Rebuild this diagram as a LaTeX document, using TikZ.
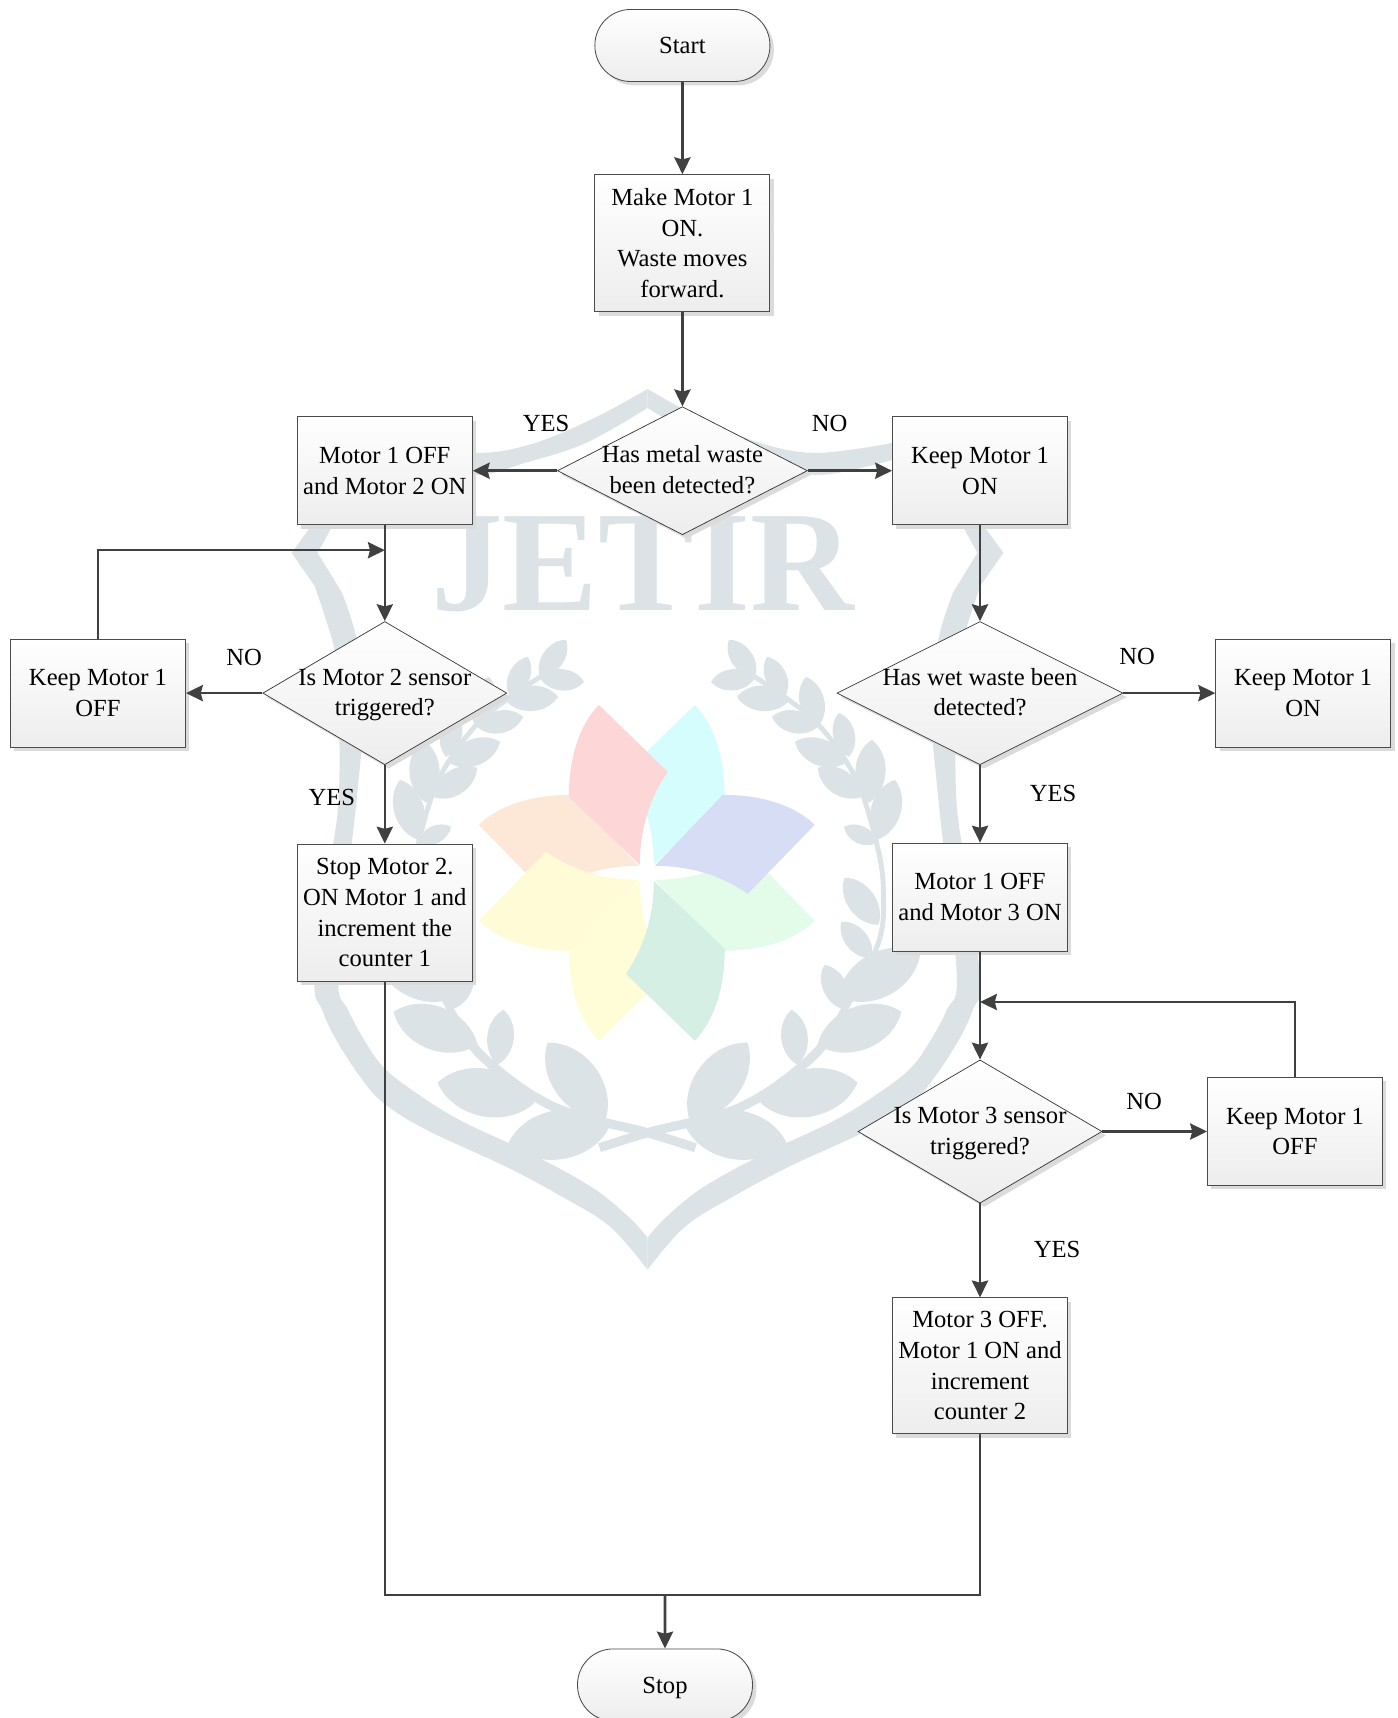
\documentclass[tikz,border=0pt]{standalone}
\usepackage{fontspec}
\setmainfont{Liberation Serif}
\usepackage{tikz}
\usetikzlibrary{arrows,positioning}
\usetikzlibrary{shapes.geometric,calc,shadows}
\usetikzlibrary{arrows.meta}
\definecolor{wmgray}{HTML}{DCE3E7}
\definecolor{linegray}{HTML}{404040}
\newcommand{\dlabel}[1]{\smash{\makebox[0pt]{\raisebox{-5.3pt}{\parbox[c]{9cm}{\centering\strut #1\strut}}}}}
\newcommand{\wmleaf}[4]{\fill (#1,#2) to[bend left=55] (#3,#4) to[bend left=55] (#1,#2);}
\newcommand{\petal}[3]{\begin{scope}[shift={(16.17cm,-21.82cm)},x=#2,y=-0.025cm,rotate=#1]
\fill [#3] (-48,-168) -- (21,-101) .. controls (1,-72) and (-7,-40) .. (-7,-8) -- (-78,-76) .. controls (-78,-110) and (-70,-145) .. (-48,-168) -- cycle;
\end{scope}}
% one half of the shield and the laurel
\newcommand{\wmhalf}{
\fill plot [smooth,tension=.6] coordinates {(0,1270) (37.5,1227) (85.5,1197) (141.5,1167) (221.5,1130) (264.5,1103) (287.5,1077) (311.5,1040) (325.5,1010) (333,982) (320,880) (309,800) (309,700) (313,650) (333,586)}
 -- (356,553) -- (335,524)
 -- plot [smooth,tension=.6] coordinates {(245,443) (170,453) (112.5,443) (51,417) (0,389)}
 -- plot [smooth,tension=.6] coordinates {(0,408) (61.5,443) (122.5,463) (173.5,475) (245,460)}
 -- (314,524) -- (330,553)
 -- plot [smooth,tension=.6] coordinates {(306,592) (292,635) (283,700) (291,800) (300,880) (309.5,982) (299.5,1010) (283.5,1040) (264.5,1067) (236,1090) (188.5,1120) (118.5,1153) (56.5,1187) (19,1217) (0,1238)} -- cycle;
\draw [wmgray,line width=6.5pt] plot [smooth,tension=.6] coordinates {(-48,1148) (0,1133) (94,1107) (165,1057) (198,1010)};
\draw [wmgray,line width=3.5pt] plot [smooth,tension=.6] coordinates {(198,1010) (231,943) (236,893) (230,847) (209,780) (173,727) (137,697) (107,677)};
\wmleaf{81.5}{640}{107.5}{677}
\wmleaf{63.5}{682}{107.5}{678}
\wmleaf{119.5}{657}{137.5}{697}
\wmleaf{89.5}{697}{142.5}{700}
\wmleaf{158.5}{677}{170.5}{727}
\wmleaf{124.5}{717}{170.5}{727}
\wmleaf{191.5}{713}{201.5}{757}
\wmleaf{147.5}{742}{198.5}{763}
\wmleaf{224.5}{740}{221.5}{803}
\wmleaf{170.5}{768}{214.5}{797}
\wmleaf{247.5}{780}{229.5}{840}
\wmleaf{196.5}{827}{229.5}{843}
\wmleaf{197}{878}{231}{925}
\wmleaf{194}{922}{224}{958}
\wmleaf{273}{953}{191}{997}
\wmleaf{177}{965}{198}{1010}
\wmleaf{254}{1012}{170}{1045}
\wmleaf{144}{1010}{150}{1065}
\wmleaf{210}{1083}{113}{1103}
\wmleaf{100}{1043}{42}{1120}
\wmleaf{139}{1143}{38}{1127}
}

\begin{document}
\begin{tikzpicture}[node distance=1cm, auto, font=\fontsize{17.5}{21.8}\selectfont]

\tikzstyle{shaded} = [top color=white, bottom color=black!7, general shadow={shadow xshift=2.8pt, shadow yshift=-2.8pt, fill=black!14}]
\tikzstyle{startstop} = [rectangle, rounded corners=0.89cm, minimum width=4.375cm, minimum height=1.8cm, align=center, draw=black!70, line width=0.6pt, shaded]
\tikzstyle{process} = [rectangle, minimum width=4.375cm, minimum height=2.7cm, align=center, draw=black!70, line width=0.7pt, shaded]
\tikzstyle{decision} = [diamond, inner sep=0pt, minimum width=6.1cm, minimum height=3.58cm, draw=black!80, line width=0.5pt, shaded]
\tikzstyle{link} = [draw=linegray, line width=1.8pt]
\tikzstyle{arrow} = [link, -{Stealth[length=12pt,width=11.5pt,inset=1.5pt]}]

\useasboundingbox (0,0) rectangle (34.925,-42.95);

% watermark
\begin{scope}[shift={(16.1875cm,0cm)},x=-0.025cm,y=-0.025cm,wmgray]
\wmhalf
\end{scope}
\begin{scope}[shift={(16.1875cm,0cm)},x=0.025cm,y=-0.025cm,wmgray]
\wmhalf
\end{scope}
\node (jetir) [anchor=base, inner sep=0pt, text=wmgray, font=\fontsize{102}{102}\selectfont\bfseries] at (16.06,-15.25) {JETIR};
\petal{0}{-0.025cm}{fill={rgb,255:red,214;green,253;blue,254}}
\petal{-90}{-0.025cm}{fill={rgb,255:red,227;green,252;blue,234}}
\petal{180}{-0.025cm}{fill={rgb,255:red,254;green,253;blue,216}}
\petal{90}{-0.025cm}{fill={rgb,255:red,253;green,232;blue,216}}
\petal{0}{0.025cm}{fill={rgb,255:red,253;green,214;blue,216}}
\petal{-90}{0.025cm}{fill={rgb,255:red,214;green,221;blue,245}}
\petal{180}{0.025cm}{fill={rgb,255:red,213;green,239;blue,229}}
\petal{90}{0.025cm}{fill={rgb,255:red,254;green,251;blue,214}}

% flow chart
\node (start) [startstop] at (17.06,-1.1375) {Start};
\node (make) [process, below of=start, yshift=-3.945cm, minimum height=3.43cm] {Make Motor 1\\ON.\\Waste moves\\forward.};
\node (dec1) [decision, below of=make, yshift=-4.685cm, minimum width=6.25cm, minimum height=3.2cm] {\dlabel{Has metal waste\\been detected?}};
\node (off2on) [process, left of=dec1, xshift=-6.44cm] {Motor 1 OFF\\and Motor 2 ON};
\node (keepa) [process, right of=dec1, xshift=6.44cm] {Keep Motor 1\\ON};
\node (dec2) [decision, below of=off2on, yshift=-4.56cm] {\dlabel{Is Motor 2 sensor\\triggered?}};
\node (dec3) [decision, below of=keepa, yshift=-4.56cm, minimum width=7.15cm] {\dlabel{Has wet waste been\\detected?}};
\node (keepb) [process, left of=dec2, xshift=-6.17cm] {Keep Motor 1\\OFF};
\node (keepc) [process, right of=dec3, xshift=7.08cm] {Keep Motor 1\\ON};
\node (stop2) [process, below of=dec2, yshift=-4.49cm, minimum height=3.43cm] {Stop Motor 2.\\ON Motor 1 and\\increment the\\counter 1};
\node (off3on) [process, below of=dec3, yshift=-4.1cm] {Motor 1 OFF\\and Motor 3 ON};
\node (dec4) [decision, below of=off3on, yshift=-4.86cm] {\dlabel{Is Motor 3 sensor\\triggered?}};
\node (keepd) [process, right of=dec4, xshift=6.875cm] {Keep Motor 1\\OFF};
\node (off3) [process, below of=dec4, yshift=-4.86cm, minimum height=3.4cm] {Motor 3 OFF.\\Motor 1 ON and\\increment\\counter 2};
\node (stop) [startstop, below of=off3, xshift=-7.875cm, yshift=-6.975cm, text depth=0pt] {Stop};

\coordinate (fba) at ($(off2on.south)+(0,-0.625)$);
\coordinate (fbb) at ($(off3on.south)+(0,-1.26)$);
\coordinate (merge) at (16.625,-39.875);

\draw [arrow] (start) -- (make);
\draw [arrow] (make) -- (dec1);
\draw [arrow] (dec1) -- node (lyesa) [pos=.13, yshift=1.175cm, anchor=center] {YES} (off2on);
\draw [arrow] (dec1) -- node (lnoa) [pos=.26, yshift=1.175cm, anchor=center] {NO} (keepa);
\draw [arrow] (off2on) -- (dec2);
\draw [arrow] (keepa) -- (dec3);
\draw [arrow] (dec2) -- node (lnob) [pos=.24, yshift=0.9cm, anchor=center] {NO} (keepb);
\draw [arrow] (keepb) |- (fba);
\draw [arrow] (dec2) -- node (lyesb) [pos=.41, xshift=-1.325cm, anchor=center] {YES} (stop2);
\draw [arrow] (dec3) -- node (lnoc) [pos=.15, yshift=0.925cm, anchor=center] {NO} (keepc);
\draw [arrow] (dec3) -- node (lyesc) [pos=.36, xshift=1.825cm, anchor=center] {YES} (off3on);
\draw [arrow] (off3on) -- (dec4);
\draw [arrow] (dec4) -- node (lnod) [pos=.4, yshift=0.76cm, anchor=center] {NO} (keepd);
\draw [arrow] (keepd) |- (fbb);
\draw [arrow] (dec4) -- node (lyesd) [pos=.49, xshift=1.925cm, anchor=center] {YES} (off3);
\draw [link] (stop2) |- (merge);
\draw [link] (off3) |- (merge);
\draw [arrow] (merge) -- (stop);
\end{tikzpicture}
\end{document}
